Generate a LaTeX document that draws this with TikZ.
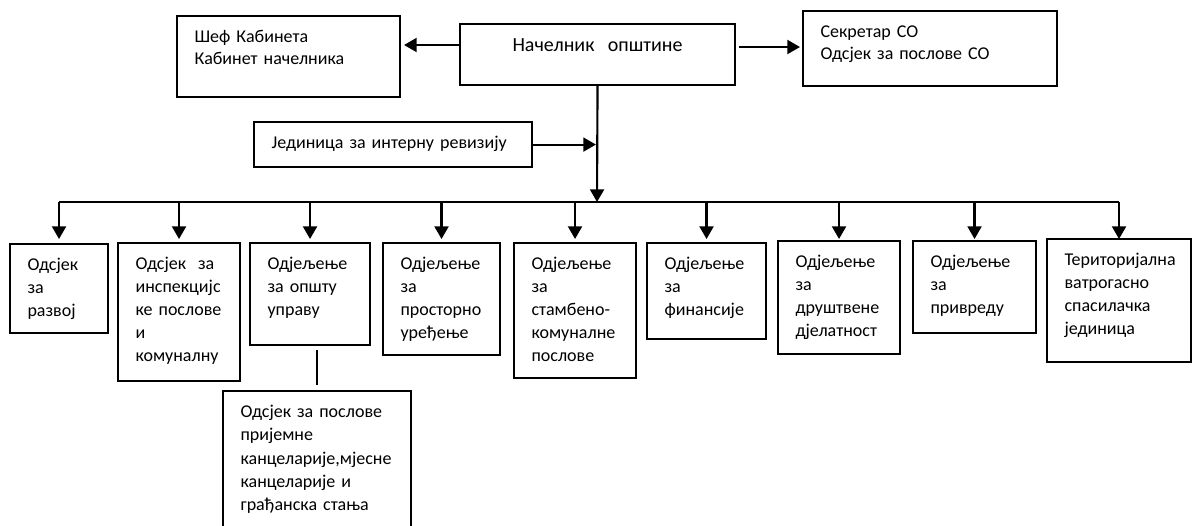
\documentclass[tikz,border=0pt]{standalone}
\usepackage{fontspec}
\setmainfont{Carlito}
\usetikzlibrary{arrows.meta}

\begin{document}
\begin{tikzpicture}[x=0.75pt ,y=-0.75pt ,line width=1.6pt ,
arr/.style ={-{Triangle[width=10.5pt,length=9.5pt]}},
unit/.style ={draw ,anchor=north west ,align=left ,inner xsep=13.1pt ,inner ysep=0pt ,
text height=19.5pt ,font=\fontsize{13.5}{17.25}\selectfont},
head/.style ={unit ,font=\fontsize{13.5}{16.5}\selectfont}]
\useasboundingbox (0,0) rectangle (1192,525);
\clip (0,0) rectangle (1192,525);
\node[head ,align=center ,text width=180pt ,text height=20.25pt ,text depth=25.5pt ,font=\fontsize{15}{18}\selectfont] (nach) at (459,23) {Начелник\ \ општине};
\node[head ,text width=141pt ,text depth=41.25pt] (sef) at (176,15) {Шеф Кабинета\\Кабинет начелника};
\node[head ,text width=164.25pt ,text depth=36.75pt] (sek) at (802,10) {Секретар СО\\Одсјек за послове СО};
\node[head ,text width=182.25pt ,text depth=14.25pt] (jed) at (253,121) {Јединица за интерну ревизију};
\node[unit ,text width=47.25pt ,text depth=47.25pt] (razvoj) at (9,243) {Одсјек\\за\\развој};
\node[unit ,text width=65.25pt ,text depth=84pt] (insp) at (117,242) {Одсјек\ \ за\\инспекцијс\\ке послове\\и\\комуналну};
\node[unit ,text width=63.75pt ,text depth=57pt] (upr) at (249,242) {Одјељење\\за општу\\управу};
\node[unit ,text width=61.5pt ,text depth=64.5pt] (prost) at (382,242) {Одјељење\\за\\просторно\\уређење};
\node[unit ,text width=65.25pt ,text depth=81.75pt] (stamb) at (513,242) {Одјељење\\за\\стамбено-\\комуналне\\послове};
\node[unit ,text width=63pt ,text depth=52.5pt] (fin) at (646,242) {Одјељење\\за\\финансије};
\node[unit ,text width=65.25pt ,text depth=65.25pt] (drust) at (777,240) {Одјељење\\за\\друштвене\\дјелатност};
\node[unit ,text width=66pt ,text depth=49.5pt] (privr) at (912,240) {Одјељење\\за\\привреду};
\node[unit ,text width=81.75pt ,text depth=72.75pt] (terit) at (1046,238) {Територијална\\ватрогасно\\спасилачка\\јединица};
\node[unit ,text width=114.75pt ,text depth=89.25pt ,font=\fontsize{13.5}{17.6}\selectfont] (sub) at (222,390) {Одсјек за послове\\пријемне\\канцеларије,мјесне\\канцеларије и\\грађанска стања};
\coordinate (bus) at (597,202);
\draw[arr] (nach.south) -- (bus);
\draw[arr ,shorten >=2.25pt] (nach.west |- 0,45) -- (sef.east |- 0,45);
\draw[arr ,shorten <=2.25pt ,shorten >=1.5pt] (nach.east |- 0,47) -- (sek.west |- 0,47);
\draw[arr ,shorten >=0.8pt] (jed.east) -- (jed.east -| bus);
\draw (razvoj.north |- bus) -- (terit.north |- bus);
\foreach \n in {razvoj,insp,upr,prost,stamb,fin,drust,privr,terit}
\draw[arr] (\n.north |- bus) -- (\n.north |- 0,239);
\draw[shorten <=3.75pt ,shorten >=3pt] (sub.north) -- (sub.north |- upr.south);
\end{tikzpicture}
\end{document}
